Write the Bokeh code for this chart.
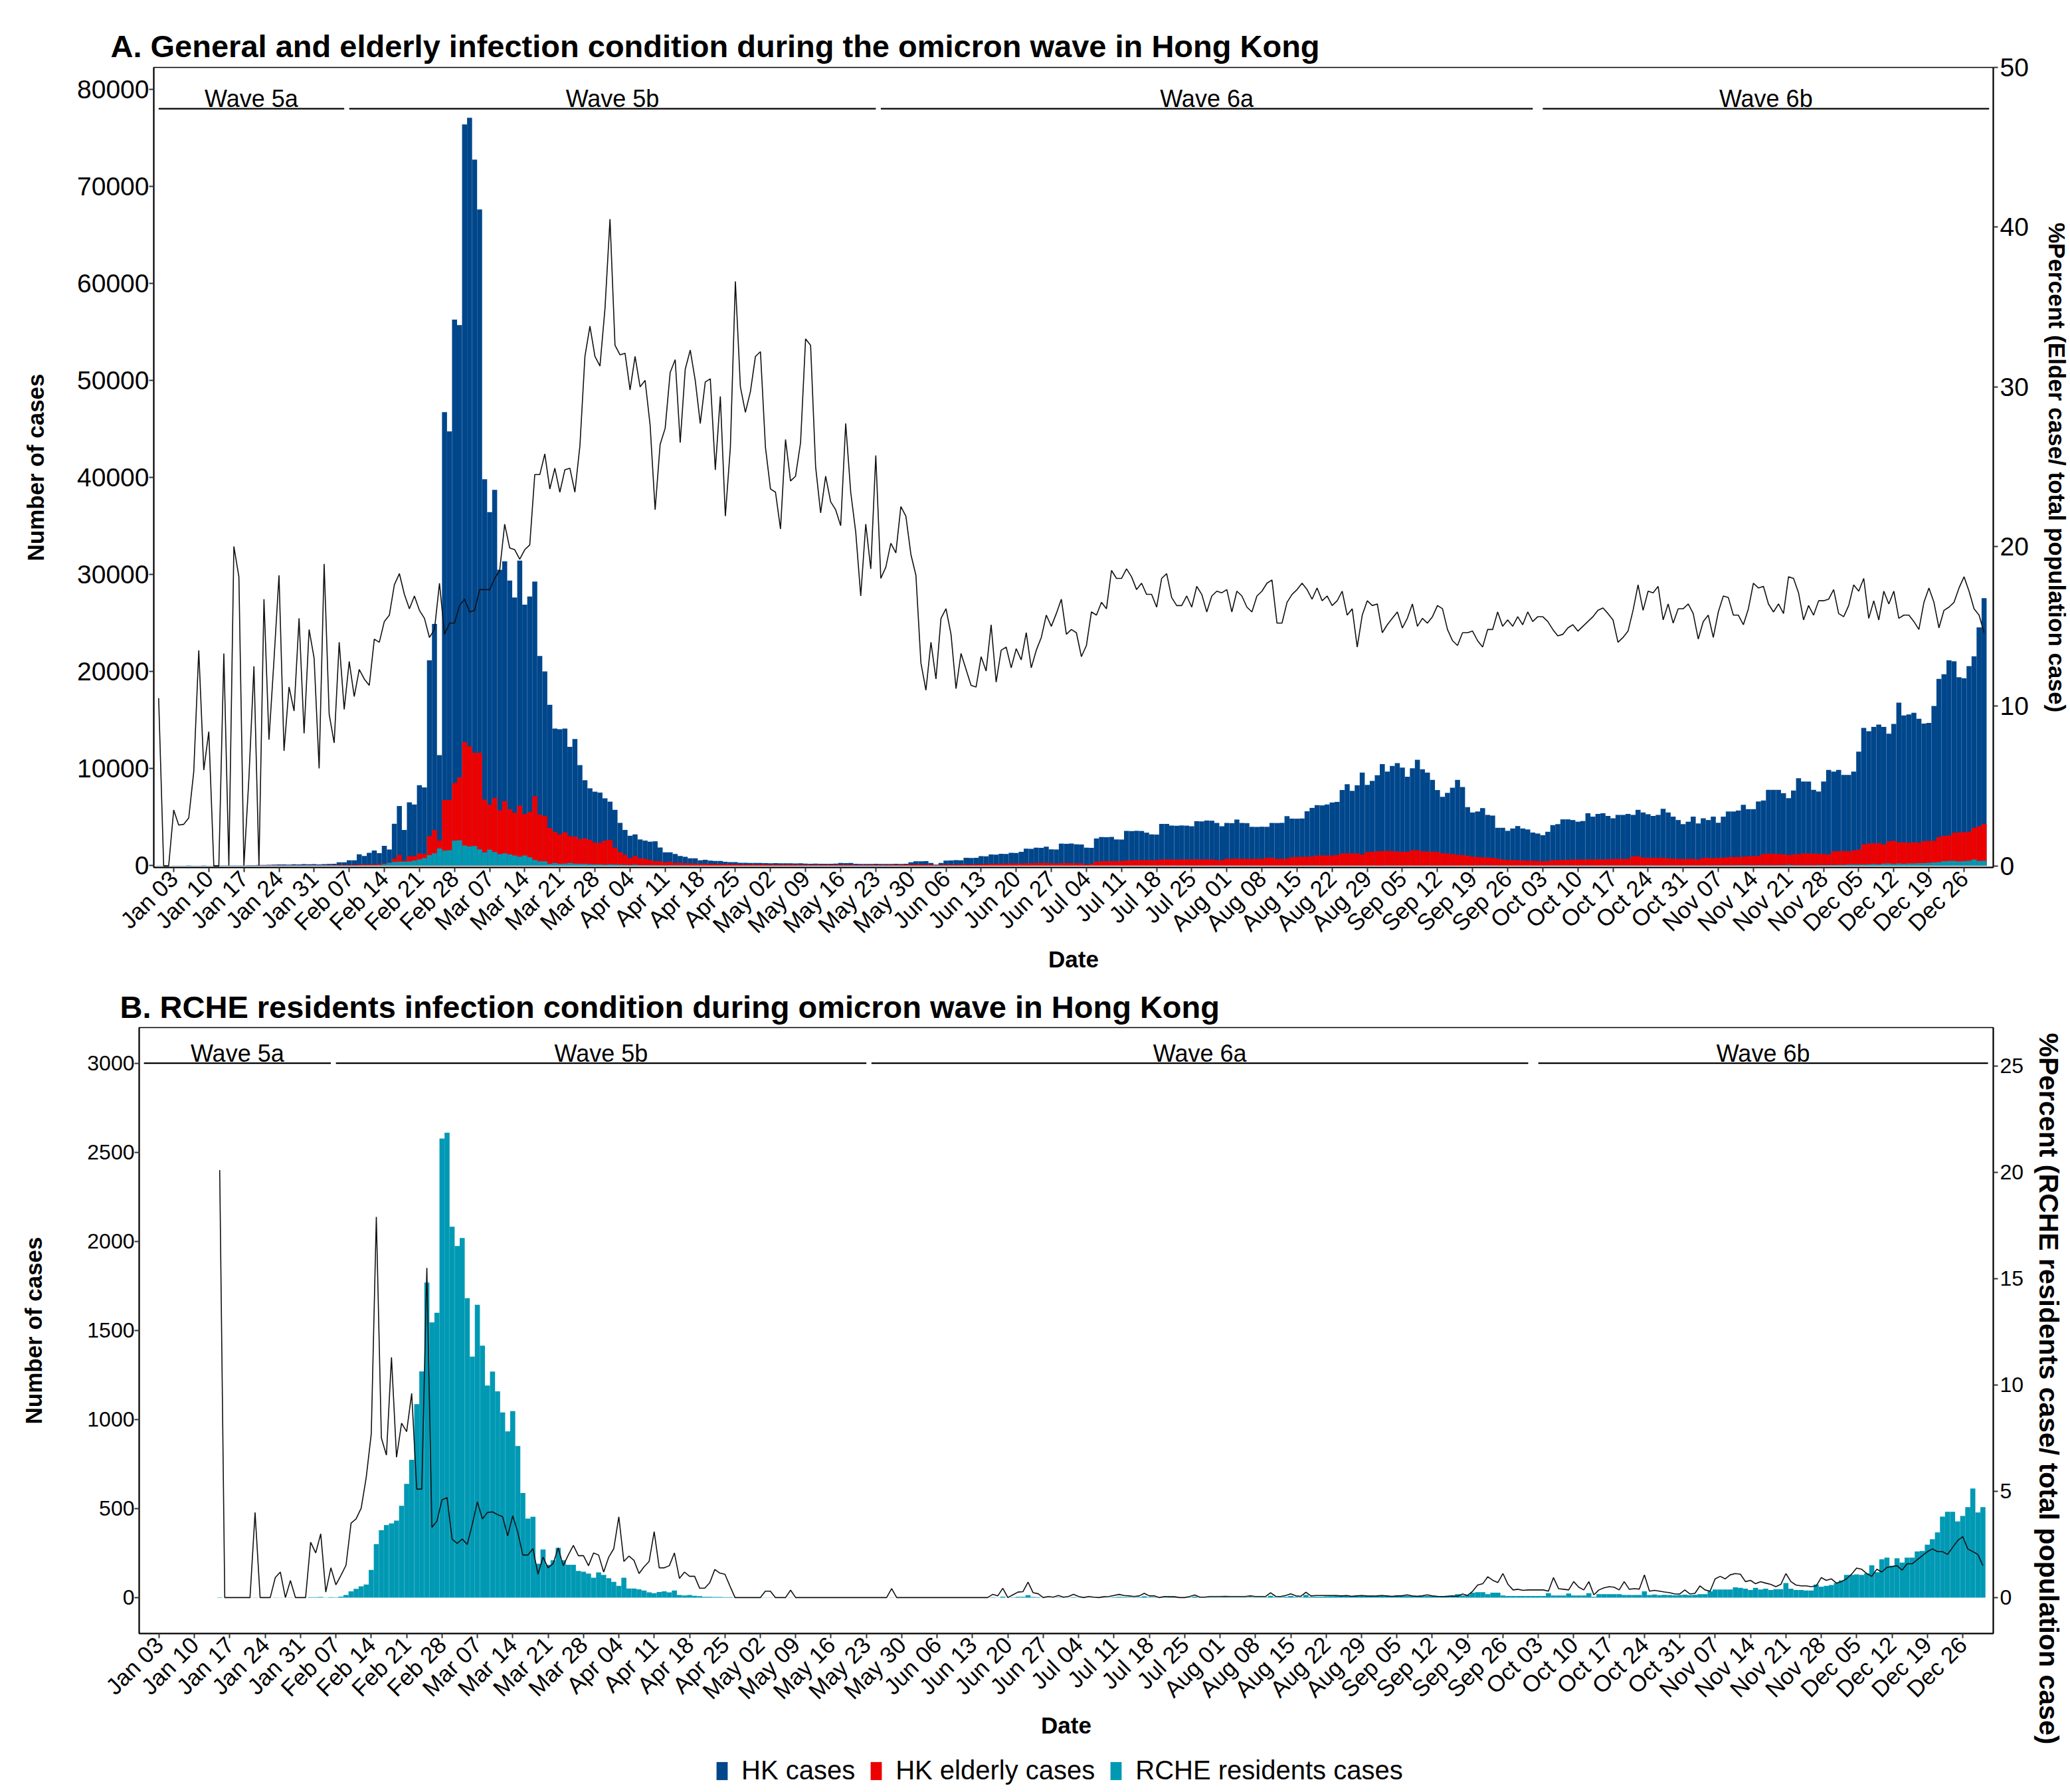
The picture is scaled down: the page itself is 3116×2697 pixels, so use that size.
import math
from bokeh.plotting import figure
from bokeh.models import Range1d, LinearAxis, FixedTicker, ColumnDataSource, Legend, LegendItem, Title
from bokeh.embed import file_html
from bokeh.resources import INLINE
from bokeh.core.properties import value

FONT = "Liberation Sans"
BLUE = "#00468B"
RED = "#ED0000"
TEAL = "#0099B4"

TITLE_A = "A. General and elderly infection condition during the omicron wave in Hong Kong"
TITLE_B = "B. RCHE residents infection condition during omicron wave in Hong Kong"
PCT_LABEL_A = "%Percent (Elder case/ total population case)"
PCT_LABEL_B = "%Percent (RCHE residents case/ total population case)"

# day offset of the first value (0 = 1 Jan 2022)
FIRST_DAY = -1

TICK_LABELS = ["Jan 03", "Jan 10", "Jan 17", "Jan 24", "Jan 31", "Feb 07", "Feb 14", "Feb 21", "Feb 28",
               "Mar 07", "Mar 14", "Mar 21", "Mar 28", "Apr 04", "Apr 11", "Apr 18", "Apr 25",
               "May 02", "May 09", "May 16", "May 23", "May 30", "Jun 06", "Jun 13", "Jun 20", "Jun 27",
               "Jul 04", "Jul 11", "Jul 18", "Jul 25", "Aug 01", "Aug 08", "Aug 15", "Aug 22", "Aug 29",
               "Sep 05", "Sep 12", "Sep 19", "Sep 26", "Oct 03", "Oct 10", "Oct 17", "Oct 24", "Oct 31",
               "Nov 07", "Nov 14", "Nov 21", "Nov 28", "Dec 05", "Dec 12", "Dec 19", "Dec 26"]
TICK_DAYS = [2 + 7 * k for k in range(len(TICK_LABELS))]

WAVE_NAMES = ["Wave 5a", "Wave 5b", "Wave 6a", "Wave 6b"]
WAVE_START = [-1, 37, 143, 275]
WAVE_END = [36, 142, 273, 364]

Y_TICKS_A = [0, 10000, 20000, 30000, 40000, 50000, 60000, 70000, 80000]
PCT_TICKS_A = [0, 10, 20, 30, 40, 50]
Y_TICKS_B = [0, 500, 1000, 1500, 2000, 2500, 3000]
PCT_TICKS_B = [0, 5, 10, 15, 20, 25]

LEGEND_LABELS = ["HK cases", "HK elderly cases", "RCHE residents cases"]

hk_cases = [
    20, 15, 10, 12, 15, 20, 30, 25, 20, 35, 25,
    20, 30, 40, 35, 30, 45, 40, 60, 50, 70, 80, 90,
    110, 120, 130, 110, 140, 130, 150, 140, 160, 130, 150, 170,
    200, 340, 340, 550, 550, 1160, 1000, 1330,
    1555, 1279, 2034, 1667, 4315, 6143, 3676, 6530, 6301, 8287, 8060,
    21170, 24910, 11390, 46740, 44750, 56280, 55700, 76390, 77070, 72760, 67620,
    39830, 36440, 38720, 30500, 31370, 29380, 27640, 31440, 26900, 27740, 29280, 21600, 20020,
    16575, 14130, 14060, 14130, 12240, 13040, 10360, 8810, 7970, 7620, 7530, 6940, 6600, 5750, 4410,
    3680, 3080, 3220, 2700, 2580, 2470, 2510, 1870,
    1370, 1370, 1210, 1000, 910, 750, 750, 550, 610, 520, 480, 480, 390, 370, 370, 300,
    290, 280, 270, 280, 260, 250, 260, 240, 250, 250, 230, 240, 210,
    200, 210, 190, 200, 200, 210, 270, 260, 270, 190, 180, 180, 170, 190, 180, 170, 180, 190, 180, 200,
    340, 450, 440, 460, 270, 100, 270, 520, 540, 560, 550, 800, 790, 800, 980,
    960, 1150, 1130, 1220, 1200, 1330, 1310, 1430, 1750, 1730, 1850, 1830, 1950, 1680, 1660, 2270,
    2250, 2280, 2200, 2180, 1850, 1830, 2800, 2950, 2930, 2960, 2700, 2690, 3580, 3560, 3590, 3570,
    3400, 3220, 3200, 4300,
    4300, 4130, 4110, 4140, 4120, 4060, 4580, 4560, 4650, 4630, 4400, 4060, 4400, 4380, 4750, 4400,
    4380, 4000, 3990, 4010, 4000, 4400, 4390, 4410, 5100, 4850, 4840, 4860, 5600, 5950, 6230, 6210,
    6300, 6500, 6570,
    7790, 8390, 7700, 8280, 9590, 8320, 8730, 9310, 10460, 9690, 10280, 10560, 10110, 9170, 10040,
    10900, 9930, 9590, 8830, 7790, 7090, 7500, 8040, 8830, 8100, 6030, 5480, 5580, 5930,
    5230, 5160, 3900, 3900, 3590, 3830, 4080, 3830, 3730, 3410, 3310, 3140, 3490, 4180, 4280, 4770,
    4770, 4700, 4530, 4600, 5400, 5050, 5330, 5400, 5120, 4880, 5230, 5230, 5330, 5230, 5750, 5480,
    5300, 5120, 5230, 5860,
    5480, 5050, 4700, 4280, 4530, 5050, 4350, 4880, 4700, 5050, 4420, 5050, 5580, 5580, 5680, 6270,
    5820, 5820, 6610, 6720, 7810, 7810, 7810, 7470, 6950, 7740, 9010, 8670, 8670, 7810, 7640, 8670,
    9870, 9700, 9870, 9350, 9350, 9700,
    11750, 14200, 13850, 14300, 14530, 14300, 13600, 14600, 16800, 15480, 15580, 15760, 15140, 14640,
    14710, 16450, 19250, 19730, 21160, 21060, 19420, 19320, 20560, 21580, 24550, 27560,
]

hk_elderly_cases = [
    3, 2, 2, 2, 3, 4, 5, 4, 3, 6, 4,
    3, 5, 7, 6, 6, 8, 7, 10, 9, 12, 14, 15,
    18, 20, 22, 19, 24, 22, 26, 24, 28, 22, 26, 30,
    35, 55, 50, 80, 70, 130, 120, 150,
    150, 200, 230, 270, 700, 1096, 525, 980, 980, 1255, 1210,
    3036, 3676, 2580, 6758, 6758, 8516, 9085, 12740, 12280, 11620, 11620,
    6800, 6280, 6985, 5685, 6640, 5800, 5455, 6185, 5320, 5550, 7145, 5255, 5115,
    3880, 3490, 3220, 3450, 3036, 2990, 2740, 2810, 2650, 2375, 2350, 2580, 2650, 1850, 1390, 1115,
    775, 1000, 750, 700, 590, 460, 440,
    345, 390, 270, 300, 250, 230, 210, 200, 190, 180, 170, 160, 150, 150, 140, 130,
    130, 125, 120, 120, 115, 110, 110, 105, 100, 100, 100, 95, 95,
    95, 90, 90, 90, 85, 85, 90, 90, 85, 80, 80, 80, 80, 85, 80, 80, 85, 90, 95, 100,
    110, 120, 120, 110, 100, 60, 90, 100, 110, 110, 120, 130, 130, 140, 150,
    170, 190, 200, 210, 210, 220, 220, 230, 240, 250, 270, 280, 290, 240, 230, 260, 270, 260, 250, 240,
    120, 200, 420, 450, 460, 470, 460, 480, 540, 550, 560, 570, 560, 550, 560, 630,
    640, 630, 620, 630, 640, 630, 650, 640, 650, 640, 560, 560, 700, 700, 720, 700, 690, 700, 710, 700,
    800, 810, 700, 700, 720, 880, 900, 910, 920, 950, 1050, 1050, 1050, 1060, 1100,
    1260, 1270, 1250, 1260, 1150, 1400, 1420, 1480, 1500, 1520, 1500, 1440, 1430, 1420, 1600, 1580,
    1470, 1450, 1430, 1400, 1280, 1230, 1200, 1120, 1080, 1030, 920, 880, 860,
    820, 790, 720, 620, 580, 560, 550, 530, 520, 500, 480, 450, 470, 560, 570, 580, 600, 620, 630, 620,
    640, 630, 650, 640, 650, 680, 700, 690, 700, 950, 980, 820, 800, 810, 790, 800,
    760, 720, 700, 680, 700, 690, 640, 790, 800, 780, 800, 810, 880, 900, 890, 920, 960, 990, 1000,
    1200, 1240, 1220, 1210, 1160, 1100, 1150, 1180, 1250, 1260, 1240, 1220, 1200, 1150, 1480, 1500,
    1510, 1470, 1580,
    1640, 2200, 2280, 2300, 2320, 2180, 2500, 2550, 2400, 2380, 2360, 2400, 2370, 2520, 2550, 2560,
    2950, 3060, 3100, 3400, 3420, 3440, 3490, 3900, 4050, 4280,
]

rche_cases = [
    0, 0, 0, 0, 0, 0, 0, 0, 0, 0, 0, 0, 0, 0, 0,
    2, 0, 0, 0, 0, 0, 0, 1, 0, 0, 0, 1, 1, 0, 1, 0, 0, 0, 3, 3, 4, 1, 3, 2, 6,
    15, 35, 49, 63, 74, 156, 300, 379, 407, 417, 433, 516, 639, 774, 1086, 1270, 1769, 1545, 1599,
    2577, 2610, 2082, 1974, 2019, 1681, 1353, 1644, 1414, 1191, 1269, 1158, 1040, 933, 1047, 851,
    587, 444, 454,
    190, 270, 185, 210, 280, 210, 185, 185, 150, 145, 135, 112, 142, 128, 109, 89, 66, 112, 51, 51,
    47, 40, 30, 25, 32, 35, 30, 40, 15, 12, 15, 10, 8, 5, 5, 4, 4, 3, 3,
    1, 1, 1, 1, 1, 1, 1, 1, 0, 0, 0, 1, 0, 0, 0,
    0, 0, 0, 0, 0, 0, 0, 0, 0, 0, 0, 0, 0, 0, 0, 0, 1,
    0, 0, 0, 0, 0, 0, 0, 0, 0, 0, 0, 0, 0, 0, 0, 0, 0, 0, 0,
    2, 1, 6, 0, 2, 5, 5, 14, 4, 3, 0, 1, 0, 2, 1, 1, 3, 1, 0, 1,
    1, 0, 1, 1, 3, 5, 4, 3, 2, 3, 7, 3, 3, 0, 2, 2, 2, 0, 0, 2,
    6, 1, 1, 2, 2, 2, 3, 2, 2, 2, 2, 3, 2, 2, 2, 10, 3, 3, 5, 9,
    4, 3, 15, 5, 6, 6, 7,
    8, 9, 10, 9, 8, 10, 9, 11, 10, 9, 12, 10, 9, 11, 14, 10, 9, 10, 12, 9, 10, 8, 9, 11, 10, 20, 12, 15,
    28, 31, 31, 20, 28, 28, 12, 9, 9, 9, 9, 9, 9, 9, 9,
    25, 12, 12, 12, 23, 12, 12, 12, 25, 5,
    20, 20, 20, 20, 20, 15, 15, 15, 15, 35,
    15, 18, 14, 16, 15, 13, 15, 17, 14, 16,
    20, 20, 35, 46, 46,
    46, 46, 58, 55, 50, 43, 55, 46, 50, 43, 48, 48, 82, 50, 43, 43, 40, 40, 74, 62,
    66, 71, 82, 97, 128, 128, 131, 128, 136, 182, 143, 215, 225, 179, 221, 197, 225, 225, 259, 262,
    297, 328, 366, 455, 482, 482, 428, 459, 508, 613, 478, 508,
]

pct_elderly = [
    10.5, 0, 0, 3.5, 2.55, 2.6, 3.0, 5.9, 13.5, 6.0, 8.4,
    0, 0, 13.3, 0, 20.0, 18.1, 0, 5.5, 12.5, 0, 16.7, 7.9,
    12.9, 18.2, 7.2, 11.2, 9.7, 15.5, 8.3, 14.8, 13.0, 6.1, 18.9, 9.5,
    7.7, 14.0, 9.8, 12.8, 10.6, 12.3, 11.7, 11.3,
    14.2, 14.0, 15.3, 15.7, 17.6, 18.3, 17.0, 16.1, 16.9, 16.0, 15.5,
    14.3, 14.8, 17.7, 14.5, 15.2, 15.2, 16.3, 16.7, 15.9, 16.0, 17.3,
    17.3, 17.3, 18.0, 18.5, 21.4, 19.9, 19.8, 19.2, 19.8, 20.1, 24.5, 24.5, 25.8,
    23.6, 24.9, 23.4, 24.8, 24.9, 23.4, 26.3, 31.9, 33.8, 31.9, 31.3, 34.9, 40.5, 32.6, 32.0, 32.1,
    29.8, 31.9, 30.0, 30.4, 27.6, 22.3, 26.4,
    27.4, 30.9, 31.7, 26.5, 31.1, 32.3, 30.4, 27.7, 30.3, 30.5, 24.8, 29.4, 21.9, 26.2, 36.6, 30.0,
    28.4, 29.7, 31.9, 32.2, 26.2, 23.6, 23.4, 21.1, 26.7, 24.1, 24.4, 26.5, 33.0,
    32.6, 25.0, 22.1, 24.4, 22.8, 22.3, 21.3, 27.7, 23.4, 20.9, 16.9, 21.4, 18.6, 25.7, 18.0, 18.7,
    20.2, 19.6, 22.5, 21.9,
    19.5, 18.2, 12.7, 11.0, 14.0, 11.7, 15.5, 16.1, 14.5, 11.1, 13.3, 12.3, 11.3, 11.2, 13.1,
    12.2, 15.1, 11.5, 13.5, 13.7, 12.4, 13.6, 12.9, 14.6, 12.4, 13.5, 14.3, 15.7, 15.0, 15.8, 16.7,
    14.5, 14.8, 14.6, 13.1, 13.8, 15.9, 15.7, 16.5, 16.1, 18.5, 18.0, 18.0, 18.6, 18.1, 17.3, 17.7,
    17.0, 17.0, 16.2, 18.0,
    18.3, 16.8, 16.3, 16.3, 16.9, 16.2, 17.5, 17.0, 15.9, 16.9, 17.2, 17.1, 17.3, 15.9, 17.2, 16.9,
    16.2, 15.9, 16.9, 17.2, 17.7, 17.9, 15.2, 15.2, 16.5, 17.0, 17.3, 17.7, 17.3, 16.7, 17.4, 16.6,
    16.9, 16.3, 16.6,
    17.2, 15.7, 16.1, 13.7, 15.7, 16.6, 16.3, 16.4, 14.6, 15.1, 15.5, 15.9, 14.9, 15.5, 16.4, 15.0,
    15.5, 15.2, 15.6, 16.3, 16.1, 14.8, 14.1, 13.8, 14.6, 14.6, 14.7, 14.1, 13.7,
    14.8, 14.8, 15.9, 15.0, 15.4, 15.0, 15.6, 15.1, 15.9, 15.3, 15.6, 15.6, 15.3, 14.8, 14.4, 14.5,
    14.9, 15.1, 14.7, 15.0, 15.3, 15.6, 16.0, 16.15, 15.8, 15.4, 14.0, 14.3, 14.7, 16.0, 17.6, 16.0,
    17.2, 17.1, 17.5, 15.4,
    16.4, 15.2, 16.1, 16.1, 16.4, 15.8, 14.2, 15.3, 15.7, 14.3, 15.9, 16.9, 16.8, 15.7, 15.7, 15.1,
    16.1, 17.7, 17.4, 17.5, 16.4, 15.9, 16.4, 15.8, 18.1, 18.0, 17.1, 15.4, 16.3, 15.7, 16.6, 16.6,
    16.7, 17.3, 15.8, 15.6, 16.3, 17.6,
    17.2, 18.0, 15.5, 16.6, 15.4, 17.2, 16.4, 17.2, 15.5, 15.7, 15.7, 15.3, 14.8, 16.5, 17.4, 16.5,
    14.9, 16.0, 16.2, 16.5, 17.4, 18.1, 17.2, 16.1, 15.7, 14.6,
]

NA = float("nan")
pct_rche = [
    NA, NA, NA, NA, NA, NA, NA, NA, NA, NA, NA, NA, NA, NA, NA,
    20.1, 0, 0, 0, 0, 0, 0, 4.0, 0, 0, 0, 0.94, 1.2, 0, 0.8, 0, 0, 0, 2.6, 2.1, 3.0, 0.26, 1.4, 0.6, 1.05,
    1.52, 3.5, 3.7, 4.2, 5.65, 7.7, 17.9, 7.5, 6.7, 11.3, 6.6, 8.2, 7.8, 9.6, 5.1, 5.1, 15.5, 3.3, 3.6,
    4.6, 4.7, 2.75, 2.55, 2.75, 2.5, 3.45, 4.5, 3.7, 4.0, 4.03, 3.9, 3.8, 2.9, 3.85, 3.07, 2.0, 2.0, 2.3,
    1.1, 1.9, 1.4, 1.6, 2.33, 1.5, 2.0, 2.45, 1.97, 1.97, 1.5, 2.1, 2.0, 1.2, 1.9, 2.3, 3.8, 1.7, 1.95,
    1.75, 1.13, 1.45, 1.7, 3.1, 1.4, 1.4, 1.5, 2.1, 0.9, 1.2, 1.0, 1.0, 0.44, 0.44, 0.7, 1.32, 1.15,
    1.1, 0.54,
    0, 0, 0, 0, 0, 0, 0.3, 0.3, 0, 0, 0, 0.35,
    0, 0, 0, 0, 0, 0, 0, 0, 0, 0, 0, 0, 0, 0, 0, 0, 0, 0, 0, 0.42,
    0, 0, 0, 0, 0, 0, 0, 0, 0, 0, 0, 0, 0, 0, 0, 0, 0, 0, 0,
    0.15, 0.08, 0.44, 0, 0.13, 0.26, 0.28, 0.73, 0.23, 0.18, 0, 0.05, 0.02, 0.1, 0.02, 0.05, 0.15, 0.05,
    0, 0.05, 0.02, 0, 0.04, 0.05, 0.1, 0.15, 0.1, 0.08, 0.05, 0.08, 0.2, 0.08, 0.08, 0, 0.05, 0.04,
    0.04, 0, 0, 0.05, 0.12, 0.02, 0.02, 0.05, 0.05, 0.05, 0.06, 0.05, 0.05, 0.05, 0.05, 0.08, 0.05,
    0.05, 0.05, 0.23, 0.06, 0.05, 0.1, 0.18, 0.08, 0.06, 0.25, 0.08, 0.1, 0.1, 0.1,
    0.10, 0.10, 0.08, 0.10, 0.06, 0.08, 0.10, 0.08, 0.07, 0.08, 0.10, 0.08, 0.06, 0.08, 0.08, 0.13,
    0.08, 0.06, 0.08, 0.13, 0.08, 0.06, 0.05, 0.06, 0.08, 0.06, 0.17, 0.10,
    0.3, 0.59, 0.65, 0.98, 0.81, 0.71, 1.13, 0.62, 0.36, 0.39, 0.34, 0.36, 0.36, 0.36, 0.36, 0.3,
    0.94, 0.42, 0.39, 0.36, 0.75, 0.49, 0.36, 0.75, 0.13, 0.36, 0.46, 0.51, 0.49, 0.36, 0.75, 0.39,
    0.42, 0.4, 1.07, 0.3, 0.34, 0.3, 0.26, 0.23, 0.17, 0.17, 0.36, 0.17, 0.2, 0.55, 0.36, 0.3, 0.88,
    1.0, 0.88, 1.07, 1.13, 1.1, 0.75, 0.81, 0.65, 0.75, 0.68, 0.62, 0.51, 0.62, 1.13, 0.75, 0.59,
    0.55, 0.55, 0.51, 0.55, 0.94, 0.81, 0.88, 0.68, 0.75, 0.88, 1.1, 1.39, 1.33, 1.13, 1.0, 1.33,
    1.2, 1.42, 1.46, 1.5, 1.29, 1.59, 1.59, 1.78, 1.97, 2.16, 2.29, 2.16, 2.16, 2.03, 2.36, 2.68,
    2.87, 2.29, 2.16, 2.03, 1.5,
]


def days_for(values):
    return list(range(FIRST_DAY, FIRST_DAY + len(values)))


def style_axis(ax, size):
    ax.major_label_text_font = FONT
    ax.major_label_text_font_size = size
    ax.major_label_text_color = "black"
    ax.axis_label_text_font = FONT
    ax.axis_label_text_font_size = "35px"
    ax.axis_label_text_font_style = "bold"
    ax.axis_label_text_color = "black"
    ax.axis_line_color = "black"
    ax.axis_line_width = 2
    ax.major_tick_line_color = "#333333"
    ax.major_tick_line_width = 2
    ax.major_tick_out = 7
    ax.major_tick_in = 0
    ax.minor_tick_line_color = None
    ax.major_label_standoff = 0


def make_panel(title, title_offset, left_border, frame_w, frame_h, top_border, bottom_border,
               xr, yr, pr, y_ticks, pct_ticks, ytick_size, ylabel_standoff, pct_label, wave_y, wave_text_y):
    p = figure(frame_width=frame_w, frame_height=frame_h,
               x_range=Range1d(*xr), y_range=Range1d(*yr),
               output_backend="svg", toolbar_location=None,
               min_border_left=left_border, min_border_right=114,
               min_border_top=top_border, min_border_bottom=bottom_border,
               title=title)
    p.title.text_font = FONT
    p.title.text_font_size = "47px"
    p.title.text_font_style = "bold"
    p.title.text_color = "black"
    p.title.align = "left"
    p.title.offset = title_offset
    p.title.standoff = 12
    p.outline_line_color = "black"
    p.outline_line_width = 1.5
    p.background_fill_color = "white"
    p.border_fill_color = "white"
    p.xgrid.grid_line_color = None
    p.ygrid.grid_line_color = None
    p.extra_y_ranges = {"pct": Range1d(*pr)}

    style_axis(p.xaxis[0], "35px")
    p.xaxis.ticker = FixedTicker(ticks=TICK_DAYS)
    p.xaxis.major_label_overrides = {d: lab for d, lab in zip(TICK_DAYS, TICK_LABELS)}
    p.xaxis.major_label_orientation = math.pi / 4
    p.xaxis.axis_label = "Date"
    p.xaxis.axis_label_standoff = -4
    p.xaxis.major_label_standoff = 4

    style_axis(p.yaxis[0], ytick_size)
    p.yaxis.ticker = FixedTicker(ticks=y_ticks)
    p.yaxis.axis_label = "Number of cases"
    p.yaxis.axis_label_standoff = ylabel_standoff

    right = LinearAxis(y_range_name="pct", ticker=FixedTicker(ticks=pct_ticks))
    style_axis(right, ytick_size)
    right.major_label_standoff = 3
    if pct_label:
        right.axis_label = pct_label
        right.axis_label_standoff = 20
    p.add_layout(right, "right")

    mids = [(a + b) / 2 for a, b in zip(WAVE_START, WAVE_END)]
    p.segment(x0=WAVE_START, y0=[wave_y] * len(WAVE_START), x1=WAVE_END, y1=[wave_y] * len(WAVE_END),
              line_color="black", line_width=2.2)
    p.text(x=mids, y=[wave_text_y] * len(mids), text=WAVE_NAMES, text_align="center",
           text_baseline="bottom", text_font=value(FONT), text_font_size="36px", text_color="black")
    return p


# ---------- Panel A ----------
pA = make_panel(TITLE_A, -65, 231, 2769, 1204, 101, 173,
                (-1.97, 364.83), (-185, 82259), (-0.1, 50.0),
                Y_TICKS_A, PCT_TICKS_A, "39px", 40, PCT_LABEL_A, 78000, 77620)

srcA_hk = ColumnDataSource(dict(x=days_for(hk_cases), top=hk_cases))
srcA_el = ColumnDataSource(dict(x=days_for(hk_elderly_cases), top=hk_elderly_cases))
srcA_rc = ColumnDataSource(dict(x=days_for(rche_cases), top=rche_cases))
srcA_pct = ColumnDataSource(dict(x=days_for(pct_elderly), y=pct_elderly))

pA.vbar(x="x", top="top", width=1.0, source=srcA_hk, fill_color=BLUE, line_color=None)
pA.vbar(x="x", top="top", width=1.0, source=srcA_el, fill_color=RED, line_color=None)
pA.vbar(x="x", top="top", width=1.0, source=srcA_rc, fill_color=TEAL, line_color=None)
pA.line(x="x", y="y", source=srcA_pct, y_range_name="pct", line_color="#111111", line_width=1.6)

# ---------- Panel B ----------
pB = make_panel(TITLE_B, -29, 209, 2791, 912, 68, 184,
                (-1.94, 365.05), (-201.4, 3200), (-1.69, 26.8),
                Y_TICKS_B, PCT_TICKS_B, "32px", 58, None, 3000, 2979)
pB.title.standoff = 10

srcB_rc = ColumnDataSource(dict(x=days_for(rche_cases), top=rche_cases))
srcB_pct = ColumnDataSource(dict(x=days_for(pct_rche), y=pct_rche))
pB.vbar(x="x", top="top", width=1.0, source=srcB_rc, fill_color=TEAL, line_color=None)
pB.line(x="x", y="y", source=srcB_pct, y_range_name="pct", line_color="#111111", line_width=1.6)

# right-hand title of panel B, set on the right side so it can start near the top of the frame
right_title_B = Title(text=PCT_LABEL_B, align="left", offset=8, standoff=22,
                      text_font=FONT, text_font_size="41px", text_font_style="bold", text_color="black")
pB.add_layout(right_title_B, "right")

# ---------- Legend strip ----------
pL = figure(width=3114, height=47, x_range=Range1d(0, 1), y_range=Range1d(0, 1),
            x_axis_type=None, y_axis_type=None, output_backend="svg", toolbar_location=None,
            min_border=0, outline_line_color=None)
pL.xgrid.grid_line_color = None
pL.ygrid.grid_line_color = None
# one hidden key row (outside the visible range) per colour, used only by the legend
key_src = ColumnDataSource(dict(x=[5.0], top=[0.5]))
leg_renderers = [pL.vbar(x="x", top="top", width=0.1, source=key_src, fill_color=c, line_color=None)
                 for c in (BLUE, RED, TEAL)]
legend = Legend(items=[LegendItem(label=lab, renderers=[r]) for lab, r in zip(LEGEND_LABELS, leg_renderers)],
                orientation="horizontal", location=(1076, 2),
                glyph_width=21, glyph_height=34, label_standoff=19, spacing=21,
                padding=0, margin=0, border_line_color=None, background_fill_alpha=0,
                label_text_font=FONT, label_text_font_size="40px", label_text_color="black")
pL.add_layout(legend)

open("out.html", "w").write(file_html([pA, pB, pL], INLINE))
